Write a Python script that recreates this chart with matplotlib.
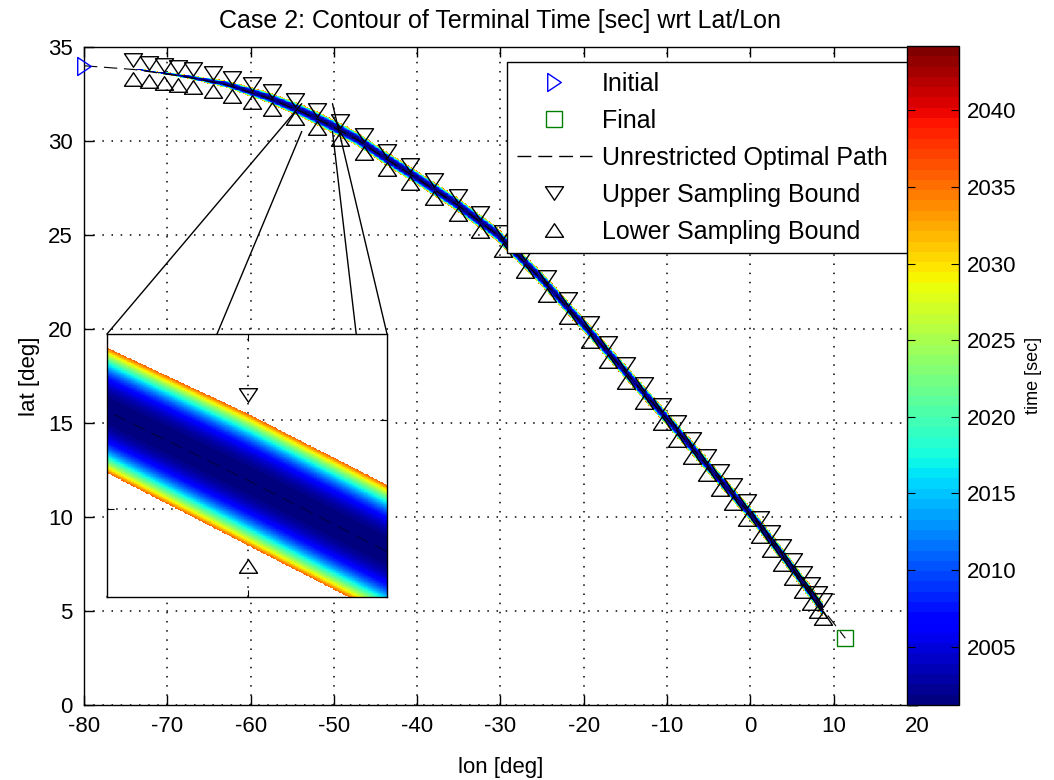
import numpy as np
import matplotlib
matplotlib.use("Agg")
import matplotlib.pyplot as plt
from matplotlib.lines import Line2D
from matplotlib.markers import MarkerStyle
from matplotlib.patches import ConnectionPatch
from matplotlib.path import Path

plt.rcParams["font.family"] = ["Liberation Sans", "DejaVu Sans"]
plt.rcParams["axes.unicode_minus"] = False

# unrestricted optimal path [deg]
path_lon = [-80.0, -74.0, -68.0, -63.0, -58.0, -53.86, -52.0, -50.17, -47.3, -44.0, -40.0,
            -35.2, -30.5, -25.0, -19.6, -14.6, -9.6, -4.6, 0.3, 4.5, 8.7, 11.4]
path_lat = [34.0, 33.8, 33.42, 33.0, 32.3, 31.55, 31.16, 30.76, 30.1, 29.12, 28.0,
            26.6, 25.05, 22.6, 20.0, 17.5, 15.0, 12.45, 10.0, 7.6, 5.1, 3.55]

initial_lon, initial_lat = -80.0, 34.0
final_lon, final_lat = 11.4, 3.55

# sampling points along the path (centre of each upper/lower pair)
sample_lon = [-74.1, -72.2, -70.4, -68.7, -66.9, -64.5, -62.2, -59.8, -57.4, -54.7,
              -52.0, -49.3, -46.4, -43.6, -40.9, -38.0, -35.1, -32.5, -29.7, -27.1,
              -24.4, -21.9, -19.3, -17.1, -14.9, -12.8, -10.6, -8.8, -7.0, -5.2,
              -3.6, -2.1, -0.4, 1.2, 2.5, 3.8, 5.1, 6.3, 7.3, 8.1, 8.7]
sample_lat = [33.80, 33.69, 33.57, 33.46, 33.33, 33.13, 32.89, 32.55, 32.19, 31.70,
              31.16, 30.56, 29.83, 29.01, 28.25, 27.42, 26.57, 25.71, 24.69, 23.54,
              22.31, 21.11, 19.85, 18.75, 17.65, 16.60, 15.50, 14.59, 13.67, 12.76,
              11.95, 11.20, 10.35, 9.49, 8.74, 8.00, 7.24, 6.53, 5.93, 5.46, 5.10]
bound_offset = 0.48

# half width (lat) of the sampled terminal-time band
band_lon = [-74.1, -70.0, -65.0, -60.0, -55.0, -52.0, 8.7]
band_halfwidth = [0.03, 0.07, 0.15, 0.25, 0.34, 0.37, 0.39]

time_center = 2001.2
time_edge = 2036.0
time_min, time_max = 2001.2, 2044.2
cbar_ticks = [2005, 2010, 2015, 2020, 2025, 2030, 2035, 2040]

zoom_lon = (-53.86, -50.17)
zoom_lat = (30.505, 31.983)

FS = 16


def terminal_time(lon, lat):
    lon_g, lat_g = np.meshgrid(lon, lat)
    centre = np.interp(lon_g, path_lon, path_lat)
    hw = np.interp(lon_g, band_lon, band_halfwidth)
    d = np.abs(lat_g - centre) / hw
    t = time_center + (time_edge - time_center) * d ** 2.6
    inside = (d <= 1) & (lon_g >= band_lon[0]) & (lon_g <= band_lon[-1])
    return np.ma.masked_where(~inside, t)


def tri(kind):
    pts = {"down": [(-1, 0.75), (1, 0.75), (0, -0.75)],
           "up": [(-1, -0.75), (1, -0.75), (0, 0.75)],
           "right": [(-0.75, 1), (-0.75, -1), (0.75, 0)]}[kind]
    return MarkerStyle(Path(pts + [pts[0]], closed=True))


cmap = plt.get_cmap("jet", 64)
upper = [v + bound_offset for v in sample_lat]
lower = [v - bound_offset for v in sample_lat]
grid_kw = dict(color="k", linestyle=(0, (1, 5)), linewidth=1.1)
mk_kw = dict(ls="none", mfc="none", mec="k", mew=1.0, ms=13)

fig = plt.figure(figsize=(10.54, 7.80), dpi=100)
ax = fig.add_axes([0.0797, 0.0962, 0.7903, 0.8436])

lon_m = np.arange(-80, 20.001, 0.1)
lat_m = np.arange(0, 35.001, 0.04)
im = ax.imshow(terminal_time(lon_m, lat_m), extent=[-80, 20, 0, 35], origin="lower",
               aspect="auto", cmap=cmap, vmin=time_min, vmax=time_max,
               interpolation="nearest", zorder=1)

ax.plot(path_lon, path_lat, color="k", lw=0.8, dashes=(12, 6), zorder=3)
ax.plot(sample_lon, upper, marker=tri("down"), zorder=4, **mk_kw)
ax.plot(sample_lon, lower, marker=tri("up"), zorder=4, **mk_kw)
ax.plot(initial_lon, initial_lat, ls="none", marker=tri("right"), ms=13, mfc="none",
        mec="b", mew=1.0, clip_on=False, zorder=5)
ax.plot(final_lon, final_lat, ls="none", marker="s", ms=11, mfc="none",
        mec=(0, 0.5, 0), mew=1.0, zorder=5)

ax.set_xlim(-80, 20)
ax.set_ylim(0, 35)
ax.set_xticks(range(-80, 21, 10))
ax.set_yticks(range(0, 36, 5))
ax.set_axisbelow(True)
ax.grid(True, **grid_kw)
ax.tick_params(direction="in", length=7, width=1, top=True, right=True, labelsize=FS)
ax.tick_params(axis="x", pad=8)
ax.tick_params(axis="y", pad=8)
for s in ax.spines.values():
    s.set_linewidth(1.0)
ax.set_xlabel("lon [deg]", fontsize=FS, labelpad=14)
ax.set_ylabel("lat [deg]", fontsize=FS, labelpad=6)
ax.set_title("Case 2: Contour of Terminal Time [sec] wrt Lat/Lon", fontsize=18, pad=14)

handles = [
    Line2D([], [], ls="none", marker=tri("right"), ms=13, mfc="none", mec="b", mew=1.0),
    Line2D([], [], ls="none", marker="s", ms=11, mfc="none", mec=(0, 0.5, 0), mew=1.0),
    Line2D([], [], color="k", lw=1.0, dashes=(10, 5)),
    Line2D([], [], marker=tri("down"), **mk_kw),
    Line2D([], [], marker=tri("up"), **mk_kw),
]
labels = ["Initial", "Final", "Unrestricted Optimal Path",
          "Upper Sampling Bound", "Lower Sampling Bound"]
leg = ax.legend(handles, labels, loc="upper left", bbox_to_anchor=(0.508, 0.977, 0.487, 0),
                mode="expand", borderaxespad=0, fontsize=18, handlelength=3.0,
                handletextpad=0.4, borderpad=0.38, labelspacing=0.52, fancybox=False,
                framealpha=1, edgecolor="k")
leg.get_frame().set_linewidth(1.0)

# magnified inset
ins = fig.add_axes([0.1015, 0.2346, 0.2657, 0.3372])
lon_i = np.arange(zoom_lon[0] - 0.05, zoom_lon[1] + 0.05, 0.01)
lat_i = np.arange(zoom_lat[0] - 0.02, zoom_lat[1] + 0.02, 0.004)
ins.imshow(terminal_time(lon_i, lat_i), extent=[lon_i[0], lon_i[-1], lat_i[0], lat_i[-1]],
           origin="lower", aspect="auto", cmap=cmap, vmin=time_min, vmax=time_max,
           interpolation="nearest", zorder=1)
ins.plot(path_lon, path_lat, color=(0, 0, 0.3), lw=1.0, dashes=(10, 5), zorder=3)
ins.plot(sample_lon, upper, marker=tri("down"), zorder=4, **mk_kw)
ins.plot(sample_lon, lower, marker=tri("up"), zorder=4, **mk_kw)
ins.set_xlim(*zoom_lon)
ins.set_ylim(*zoom_lat)
ins.set_xticks([-52])
ins.set_yticks([31.0, 31.5])
ins.set_xticklabels([])
ins.set_yticklabels([])
ins.set_axisbelow(True)
ins.grid(True, **grid_kw)
ins.tick_params(direction="in", length=5, top=True, right=True)
for s in ins.spines.values():
    s.set_linewidth(1.0)

corners = [((zoom_lon[0], zoom_lat[1]), (0, 1)), ((zoom_lon[0], zoom_lat[0]), (0, 0)),
           ((zoom_lon[1], zoom_lat[0]), (1, 0)), ((zoom_lon[1], zoom_lat[1]), (1, 1))]
for src, dst in corners:
    con = ConnectionPatch(xyA=src, coordsA=ax.transData, xyB=dst, coordsB=ins.transAxes,
                          color="k", lw=1.0, zorder=2)
    ax.add_artist(con)

# colorbar overlapping the right edge of the axes
cax = fig.add_axes([0.8605, 0.0962, 0.0493, 0.8449])
cb = fig.colorbar(im, cax=cax, ticks=cbar_ticks)
cb.outline.set_linewidth(1.0)
cax.tick_params(direction="in", length=6, left=True, right=True, labelsize=FS, pad=6)
cb.set_label("time [sec]", fontsize=13, labelpad=6)

fig.savefig("out.png", dpi=100)
